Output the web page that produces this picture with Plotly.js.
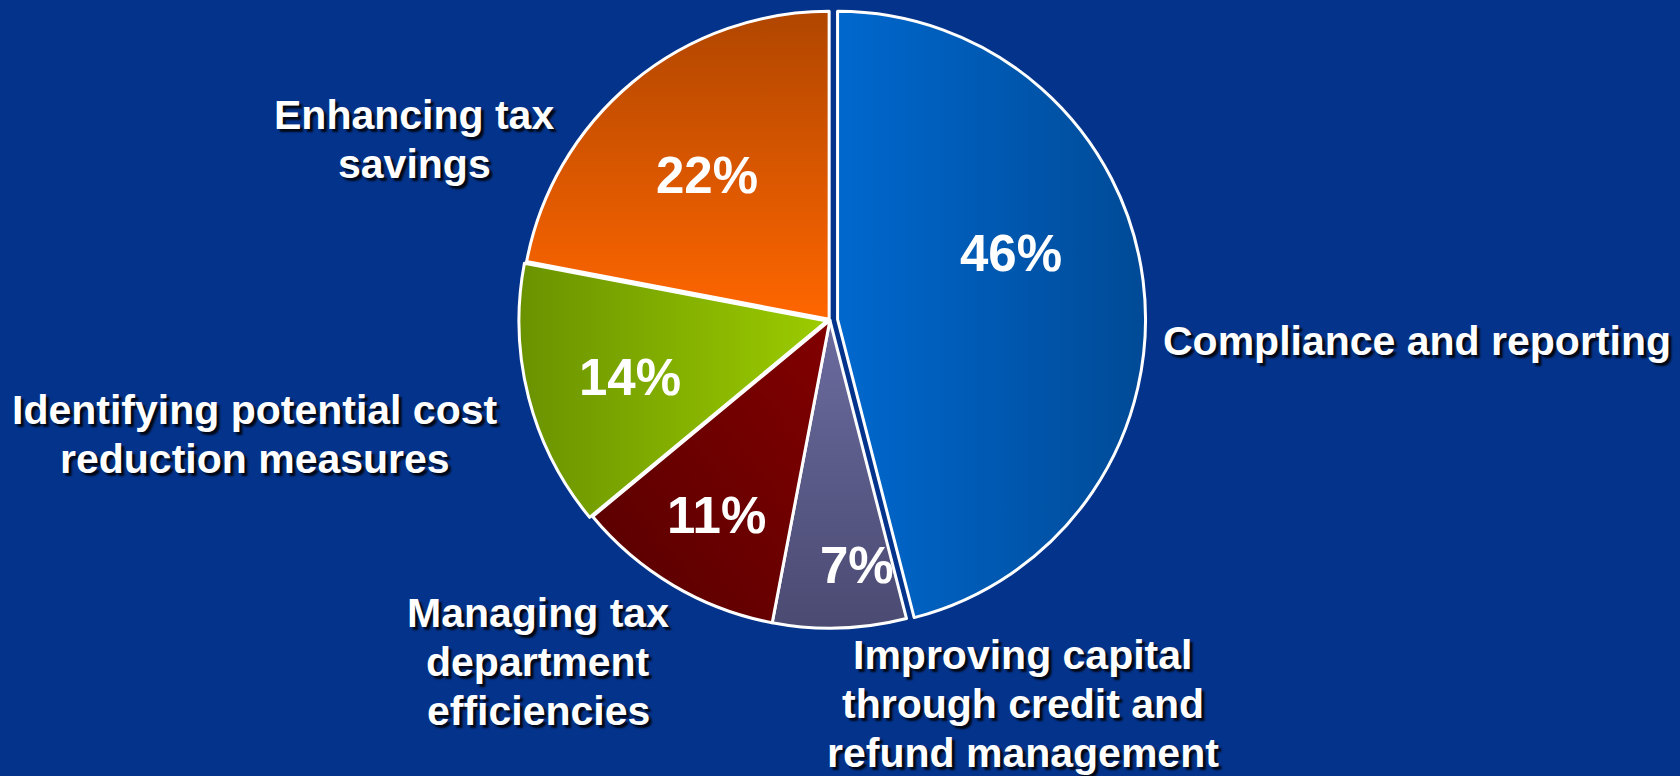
<!DOCTYPE html>
<html>
<head>
<meta charset="utf-8">
<script src="https://cdn.plot.ly/plotly-3.0.1.min.js"></script>
<style>
  html, body { margin: 0; padding: 0; background: #04338b; }
  #chart { width: 1680px; height: 776px; }
</style>
</head>
<body>
<div id="chart"></div>
<script>
// Data
const categories = [
  "Compliance and reporting",
  "Improving capital through credit and refund management",
  "Managing tax department efficiencies",
  "Identifying potential cost reduction measures",
  "Enhancing tax savings"
];
const shares = [46, 7, 11, 14, 22];
const labelLines = [
  ["Compliance and reporting"],
  ["Improving capital", "through credit and", "refund management"],
  ["Managing tax", "department", "efficiencies"],
  ["Identifying potential cost", "reduction measures"],
  ["Enhancing tax", "savings"]
];
const sliceColors = ["#0059B5", "#5D5D8C", "#6A0000", "#86AE00", "#E35C00"];
// gradient per slice: [start, end, x1, y1, x2, y2]
const sliceGradients = [
  ["#0068CE", "#004A96", 0, 0, 1, 0],
  ["#6B6B9F", "#4A4A72", 0, 0, 0, 1],
  ["#820000", "#560000", 1, 0, 0, 1],
  ["#6A9200", "#9CCC00", 0, 0, 1, 0],
  ["#B04600", "#FF6600", 0, 0, 0, 1]
];

// Layout-only placement (pixels in the 1680x776 page)
const W = 1680, H = 776;
const LINE_PITCH = 49;
const labelPx = [[1417, 341], [1023, 655], [538, 613], [255, 410], [414, 115]]; // centre x, first-line y
const pctPx = [[1011, 254], [857, 565], [716, 515], [630, 377], [707, 176]];
const FONT = "Arial, 'Liberation Sans', sans-serif";

const trace = {
  type: "pie",
  labels: categories,
  values: shares,
  sort: false,
  direction: "clockwise",
  rotation: 0,
  pull: [0.025, 0, 0, 0.01, 0.004],
  marker: { colors: sliceColors, line: { color: "#ffffff", width: 3 } },
  textinfo: "none",
  hoverinfo: "label+percent",
  domain: { x: [0.202, 0.786], y: [0.1805, 0.9941] },
  showlegend: false
};

const labelAnn = [];
labelLines.forEach((lines, i) => {
  lines.forEach((t, j) => {
    labelAnn.push({
      text: "<b>" + t + "</b>",
      xref: "paper", yref: "paper",
      x: labelPx[i][0] / W, y: 1 - (labelPx[i][1] + j * LINE_PITCH) / H,
      xanchor: "center", yanchor: "middle",
      align: "center",
      showarrow: false,
      font: { family: FONT, size: 41, color: "#ffffff", shadow: "3px 3px 2px rgba(0,0,0,0.85)" }
    });
  });
});

const pctAnn = shares.map((v, i) => ({
  text: "<b>" + v + "%</b>",
  xref: "paper", yref: "paper",
  x: pctPx[i][0] / W, y: 1 - pctPx[i][1] / H,
  xanchor: "center", yanchor: "middle",
  showarrow: false,
  font: { family: FONT, size: 51, color: "#ffffff" }
}));

const layout = {
  width: W, height: H,
  margin: { l: 0, r: 0, t: 0, b: 0 },
  paper_bgcolor: "#04338b",
  plot_bgcolor: "#04338b",
  annotations: labelAnn.concat(pctAnn),
  showlegend: false
};

Plotly.newPlot("chart", [trace], layout, { displayModeBar: false, staticPlot: true }).then(gd => {
  const svg = gd.querySelector("svg.main-svg");
  const NS = "http://www.w3.org/2000/svg";
  let defs = svg.querySelector("defs");
  if (!defs) { defs = document.createElementNS(NS, "defs"); svg.insertBefore(defs, svg.firstChild); }
  sliceGradients.forEach((g, i) => {
    const lg = document.createElementNS(NS, "linearGradient");
    lg.setAttribute("id", "sliceGrad" + i);
    lg.setAttribute("x1", g[2]); lg.setAttribute("y1", g[3]);
    lg.setAttribute("x2", g[4]); lg.setAttribute("y2", g[5]);
    const s1 = document.createElementNS(NS, "stop");
    s1.setAttribute("offset", "0"); s1.setAttribute("stop-color", g[0]);
    const s2 = document.createElementNS(NS, "stop");
    s2.setAttribute("offset", "1"); s2.setAttribute("stop-color", g[1]);
    lg.appendChild(s1); lg.appendChild(s2);
    defs.appendChild(lg);
  });
  gd.querySelectorAll("g.slice path.surface").forEach((p, i) => {
    if (i < sliceGradients.length) p.style.fill = "url(#sliceGrad" + i + ")";
  });
});
</script>
</body>
</html>
